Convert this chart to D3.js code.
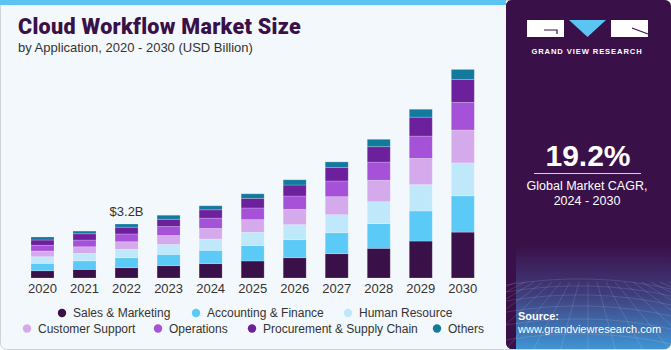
<!DOCTYPE html>
<html>
<head>
<meta charset="utf-8">
<script src="https://cdn.jsdelivr.net/npm/d3@7"></script>
<style>
  body { margin: 0; background: #fff; }
  svg { display: block; }
</style>
</head>
<body>
<script>
// data (USD billion)
let years = ["2020","2021","2022","2023","2024","2025","2026","2027","2028","2029","2030"]
let segments = ["Sales & Marketing","Accounting & Finance","Human Resource","Customer Support","Operations","Procurement & Supply Chain","Others"]
let salesMarketing   = [0.43,0.51,0.61,0.73,0.85,1.01,1.20,1.44,1.76,2.19,2.72]
let accountingFinance= [0.44,0.51,0.59,0.67,0.79,0.91,1.07,1.24,1.46,1.78,2.15]
let humanResource    = [0.39,0.44,0.50,0.59,0.67,0.79,0.89,1.07,1.30,1.56,1.95]
let customerSupport  = [0.34,0.39,0.45,0.53,0.63,0.75,0.91,1.07,1.27,1.56,1.95]
let operations       = [0.34,0.40,0.46,0.53,0.61,0.69,0.79,0.93,1.08,1.32,1.64]
let procurement      = [0.31,0.37,0.40,0.43,0.49,0.57,0.65,0.79,0.91,1.12,1.36]
let others           = [0.18,0.16,0.19,0.24,0.24,0.27,0.31,0.34,0.44,0.47,0.59]
let colors = ["#3a1048","#5ccaf7","#bfe9fa","#d5aaec","#a551d8","#6c209c","#137a9e"]

let series = [salesMarketing, accountingFinance, humanResource, customerSupport, operations, procurement, others]
let dataset = years.map((y, i) => {
  let row = {year: y}
  segments.forEach((s, k) => row[s] = series[k][i])
  return row
})

let width = 671, height = 350

let svg = d3.select('body').append('svg').attr('width', width).attr('height', height)

// panels
svg.append('rect').attr('x', 0.5).attr('y', 0.5).attr('width', width - 1).attr('height', height - 1)
  .attr('rx', 6).attr('fill', '#f3f8fc').attr('stroke', '#cfd3d6')
svg.append('rect').attr('x', 0).attr('y', 0).attr('width', 506).attr('height', 5).attr('fill', '#5bc4f0')

let defs = svg.append('defs')
let grad = defs.append('linearGradient').attr('id', 'fade').attr('x1', 0).attr('y1', 0).attr('x2', 0).attr('y2', 1)
grad.append('stop').attr('offset', '0%').attr('stop-color', '#3a1048')
grad.append('stop').attr('offset', '70%').attr('stop-color', '#3a1048')
grad.append('stop').attr('offset', '84%').attr('stop-color', '#3f3d7c')
grad.append('stop').attr('offset', '100%').attr('stop-color', '#4096d6')
defs.append('clipPath').attr('id', 'rp').append('rect')
  .attr('x', 506).attr('y', 0).attr('width', 165).attr('height', 349).attr('rx', 6)

let right = svg.append('g').attr('clip-path', 'url(#rp)')
right.append('rect').attr('x', 506).attr('y', 0).attr('width', 165).attr('height', 350).attr('fill', 'url(#fade)')
right.append('rect').attr('x', 506).attr('y', 0).attr('width', 10).attr('height', 350).attr('fill', '#3a1048')

// faint perspective grid at the bottom of the right panel
let grid = right.append('g').attr('stroke', '#ffffff').attr('stroke-opacity', 0.12).attr('fill', 'none')
for (let k = 0; k < 9; k++) {
  let yy = 285 + k * k * 1.0 + k * 6
  grid.append('path').attr('d', `M506,${yy} Q590,${yy - 14} 671,${yy + 4}`)
}
for (let k = -8; k <= 12; k++) {
  let x0 = 588 + k * 9
  grid.append('line').attr('x1', x0).attr('y1', 282).attr('x2', 588 + k * 28).attr('y2', 352)
}

// logo
let logo = svg.append('g')
logo.append('rect').attr('x', 527).attr('y', 20).attr('width', 37).attr('height', 17).attr('fill', '#fff')
logo.append('path').attr('d', 'M544,30 H557 V34').attr('stroke', '#3a1048').attr('stroke-width', 1.2).attr('fill', 'none')
logo.append('path').attr('d', 'M569,20 H606 L587.5,37 Z').attr('fill', '#5bc4f0')
logo.append('rect').attr('x', 611).attr('y', 20).attr('width', 37).attr('height', 17).attr('fill', '#fff')
logo.append('path').attr('d', 'M632,28 L648,34').attr('stroke', '#3a1048').attr('stroke-width', 1.2)
svg.append('text').attr('x', 587).attr('y', 54).attr('text-anchor', 'middle')
  .attr('fill', '#fff').attr('font-family', 'Liberation Sans, Arial').attr('font-weight', 'bold')
  .attr('font-size', 7.6).attr('letter-spacing', 0.9).text('GRAND VIEW RESEARCH')

// CAGR
svg.append('text').attr('x', 588).attr('y', 166).attr('text-anchor', 'middle')
  .attr('fill', '#fff').attr('font-family', 'Liberation Sans, Arial').attr('font-weight', 'bold')
  .attr('font-size', 30).text('19.2%')
svg.append('line').attr('x1', 534).attr('x2', 641).attr('y1', 173.5).attr('y2', 173.5)
  .attr('stroke', '#ffffff').attr('stroke-opacity', 0.8)
svg.append('text').attr('x', 587).attr('y', 190).attr('text-anchor', 'middle')
  .attr('fill', '#fff').attr('font-family', 'Liberation Sans, Arial').attr('font-size', 12.5)
  .text('Global Market CAGR,')
svg.append('text').attr('x', 587).attr('y', 205).attr('text-anchor', 'middle')
  .attr('fill', '#fff').attr('font-family', 'Liberation Sans, Arial').attr('font-size', 12.5)
  .text('2024 - 2030')

svg.append('text').attr('x', 518).attr('y', 320).attr('fill', '#fff')
  .attr('font-family', 'Liberation Sans, Arial').attr('font-weight', 'bold').attr('font-size', 11)
  .text('Source:')
svg.append('text').attr('x', 518).attr('y', 333).attr('fill', '#fff')
  .attr('font-family', 'Liberation Sans, Arial').attr('font-size', 11)
  .text('www.grandviewresearch.com')

// titles
svg.append('text').attr('x', 18).attr('y', 34).attr('fill', '#3a1048')
  .attr('font-family', 'Roboto, Arial').attr('font-weight', 900).attr('font-size', 21.5)
  .attr('letter-spacing', 0.3)
  .text('Cloud Workflow Market Size')
svg.append('text').attr('x', 18).attr('y', 52).attr('fill', '#333')
  .attr('font-family', 'Liberation Sans, Arial').attr('font-size', 13)
  .text('by Application, 2020 - 2030 (USD Billion)')

// bars
let stack = d3.stack().keys(segments)
let x = d3.scaleBand().domain(years).range([31, 474.3]).paddingInner(0.453)
let y = d3.scaleLinear().domain([0, 12]).range([278, 278 - 12 * 16.875])
let color = d3.scaleOrdinal().domain(segments).range(colors)

svg.append('g').selectAll('g')
  .data(stack(dataset))
  .enter().append('g')
  .attr('fill', d => color(d.key))
  .selectAll('rect')
  .data(d => d)
  .enter().append('rect')
  .attr('x', d => x(d.data.year))
  .attr('y', d => y(d[1]))
  .attr('height', d => y(d[0]) - y(d[1]))
  .attr('width', x.bandwidth())
  .attr('stroke', '#ffffff').attr('stroke-opacity', 0.25).attr('stroke-width', 0.8)

let axis = svg.append('g').attr('transform', 'translate(0,278)')
  .call(d3.axisBottom(x).tickSize(0).tickPadding(6))
axis.select('.domain').remove()
axis.selectAll('text').attr('font-family', 'Liberation Sans, Arial').attr('font-size', 13).attr('fill', '#333')

// annotation on 2022
let t22 = segments.reduce((a, s) => a + dataset[2][s], 0)
svg.append('text').attr('x', x('2022') + x.bandwidth() / 2).attr('y', y(t22) - 8)
  .attr('text-anchor', 'middle').attr('font-family', 'Liberation Sans, Arial').attr('font-size', 13)
  .attr('fill', '#333').text('$' + t22.toFixed(1) + 'B')

// legend
let legendRows = [
  [[0, 62], [1, 196], [2, 348]],
  [[3, 27], [4, 158], [5, 252], [6, 437]]
]
legendRows.forEach((row, r) => {
  row.forEach(([k, cx]) => {
    let g = svg.append('g').attr('transform', `translate(${cx},${313 + r * 15.5})`)
    g.append('circle').attr('r', 4.2).attr('fill', colors[k])
    g.append('text').attr('x', 11).attr('y', 4.3).attr('font-family', 'Liberation Sans, Arial')
      .attr('font-size', 12).attr('fill', '#333').text(segments[k])
  })
})
</script>
</body>
</html>
